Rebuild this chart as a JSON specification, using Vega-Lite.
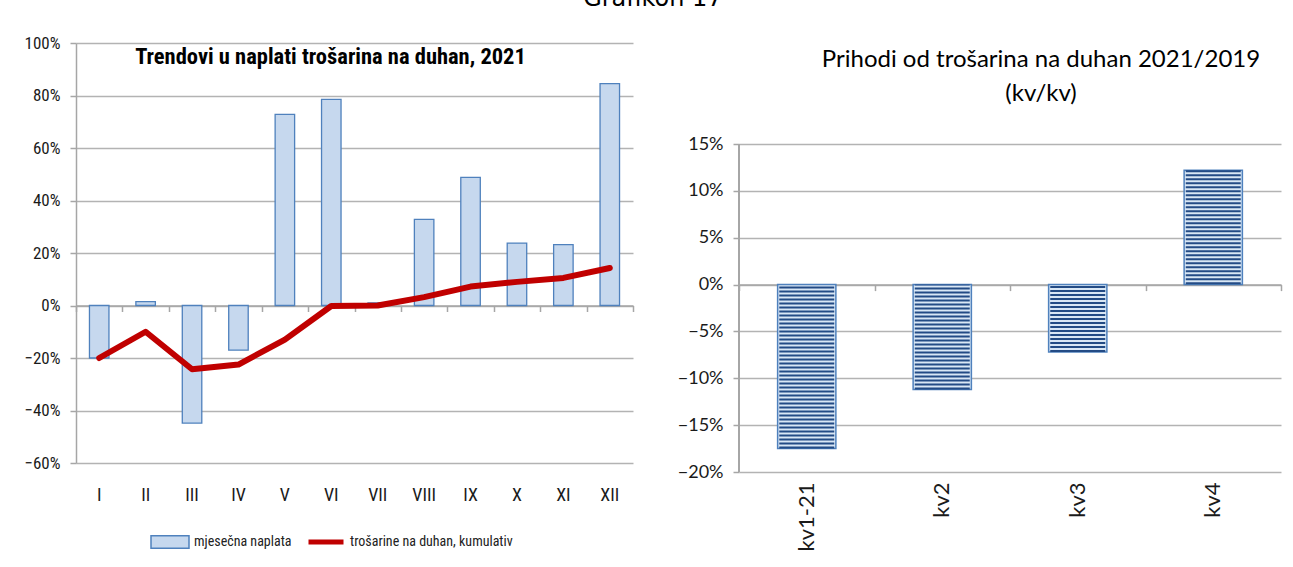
{
  "$schema": "https://vega.github.io/schema/vega-lite/v6.json",
  "background": "white",
  "padding": {"left": 23, "top": -13, "right": 5, "bottom": 0},
  "title": {"text": "Grafikon 17", "font": "DejaVu Sans", "fontSize": 24, "fontWeight": "normal", "anchor": "middle", "offset": 23, "color": "#000000"},
  "spacing": 43,
  "resolve": {"scale": {"fill": "independent", "stroke": "independent"}},
  "hconcat": [
    {
      "width": 557,
      "height": 420,
      "title": {"text": "Trendovi u naplati trošarina na duhan, 2021", "font": "Roboto Condensed, DejaVu Sans Condensed, Roboto", "fontSize": 22.5, "fontWeight": "bold", "anchor": "middle", "offset": -34, "dx": -24, "color": "#000000"},
      "data": {"values": [
        {"m": "I", "v": -0.20, "c": -0.20},
        {"m": "II", "v": 0.015, "c": -0.10},
        {"m": "III", "v": -0.448, "c": -0.243},
        {"m": "IV", "v": -0.17, "c": -0.225},
        {"m": "V", "v": 0.728, "c": -0.13},
        {"m": "VI", "v": 0.785, "c": -0.002},
        {"m": "VII", "v": 0.01, "c": 0.0},
        {"m": "VIII", "v": 0.328, "c": 0.032},
        {"m": "IX", "v": 0.488, "c": 0.072},
        {"m": "X", "v": 0.238, "c": 0.09},
        {"m": "XI", "v": 0.232, "c": 0.105},
        {"m": "XII", "v": 0.845, "c": 0.143}
      ]},
      "layer": [
        {
          "mark": {"type": "bar", "width": {"band": 0.42}, "stroke": "#4f81bd", "strokeWidth": 1.3},
          "encoding": {
            "x": {"field": "m", "type": "nominal", "sort": null, "scale": {"paddingInner": 0, "paddingOuter": 0},
                  "axis": {"title": null, "domain": false, "ticks": false, "grid": false, "labelAngle": 0, "labelPadding": 23, "labelFont": "Roboto Condensed, DejaVu Sans Condensed, Roboto", "labelFontSize": 18}},
            "y": {"field": "v", "type": "quantitative", "scale": {"domain": [-0.6, 1.0], "nice": false},
                  "axis": {"title": null, "format": ".0%", "values": [-0.6, -0.4, -0.2, 0, 0.2, 0.4, 0.6, 0.8, 1.0], "grid": true, "tickSize": 6, "labelPadding": 10, "labelFont": "Roboto Condensed, DejaVu Sans Condensed, Roboto", "labelFontSize": 17}},
            "fill": {"datum": "mjesečna naplata", "type": "nominal", "scale": {"range": ["#c6d8ee"]},
                     "legend": {"title": null, "orient": "none", "legendX": 74, "legendY": 479, "symbolType": "M-1,-0.33H1V0.33H-1Z", "symbolSize": 1444, "symbolStrokeColor": "#4f81bd", "symbolStrokeWidth": 1.5, "labelFont": "Roboto Condensed, DejaVu Sans Condensed, Roboto", "labelFontSize": 14, "labelColor": "#222222", "labelLimit": 300}}
          }
        },
        {
          "mark": {"type": "line", "strokeWidth": 6, "strokeCap": "round", "strokeJoin": "round"},
          "encoding": {
            "x": {"field": "m", "type": "nominal", "sort": null,
                  "axis": {"orient": "bottom", "offset": -157.5, "labels": false, "title": null, "domain": true, "ticks": true, "tickBand": "extent", "tickSize": 6, "grid": false}},
            "y": {"field": "c", "type": "quantitative", "title": null},
            "stroke": {"datum": "trošarine na duhan, kumulativ", "type": "nominal", "scale": {"range": ["#c00000"]},
                       "legend": {"title": null, "orient": "none", "legendX": 230, "legendY": 479, "symbolType": "stroke", "symbolSize": 1225, "symbolStrokeWidth": 5, "labelFont": "Roboto Condensed, DejaVu Sans Condensed, Roboto", "labelFontSize": 14, "labelColor": "#222222", "labelLimit": 300}}
          }
        }
      ],
      "resolve": {"axis": {"x": "independent"}}
    },
    {
      "width": 542,
      "height": 429,
      "title": {"text": ["Prihodi od trošarina na duhan 2021/2019", "(kv/kv)"], "font": "Lato", "fontSize": 24, "fontWeight": "normal", "lineHeight": 34, "color": "#000000", "anchor": "middle", "dx": 31, "offset": -63},
      "data": {"values": [
        {"q": "kv1-21", "v": -0.175},
        {"q": "kv2", "v": -0.112},
        {"q": "kv3", "v": -0.072},
        {"q": "kv4", "v": 0.122}
      ]},
      "layer": [
        {
          "mark": {"type": "bar", "width": {"band": 0.43}, "fill": "#d9e7f5", "stroke": "#4f81bd", "strokeWidth": 1.5},
          "encoding": {
            "x": {"field": "q", "type": "nominal", "sort": null, "scale": {"paddingInner": 0, "paddingOuter": 0},
                  "axis": {"title": null, "domain": false, "ticks": false, "grid": false, "labelAngle": -90, "labelPadding": 10, "labelFont": "Lato", "labelFontSize": 22}},
            "y": {"field": "v", "type": "quantitative", "scale": {"domain": [-0.2, 0.2578], "nice": false},
                  "axis": {"title": null, "format": ".0%", "values": [-0.2, -0.15, -0.1, -0.05, 0, 0.05, 0.1, 0.15], "grid": true, "domain": false, "tickSize": 6, "labelPadding": 10, "labelFont": "Lato", "labelFontSize": 18}}
          }
        },
        {
          "mark": {"type": "rule", "strokeWidth": 55, "strokeDash": [2, 2], "stroke": "#234b85", "strokeCap": "butt"},
          "encoding": {
            "x": {"field": "q", "type": "nominal", "sort": null,
                  "axis": {"orient": "bottom", "offset": -187.4, "labels": false, "title": null, "domain": true, "ticks": true, "tickBand": "extent", "tickSize": 6, "grid": false}},
            "y": {"field": "v", "type": "quantitative", "title": null},
            "y2": {"datum": 0}
          }
        },
        {
          "mark": {"type": "rule", "stroke": "#a6a6a6", "strokeWidth": 1.5},
          "encoding": {
            "x": {"datum": "kv1-21", "type": "nominal", "bandPosition": 0, "axis": null},
            "y": {"datum": 0.15, "type": "quantitative", "title": null},
            "y2": {"datum": -0.2}
          }
        }
      ],
      "resolve": {"axis": {"x": "independent"}}
    }
  ],
  "config": {
    "view": {"stroke": null},
    "font": "Lato",
    "axis": {"domainColor": "#a6a6a6", "tickColor": "#a6a6a6", "gridColor": "#b3b3b3", "domainWidth": 1.5, "tickWidth": 1.5, "gridWidth": 1.5, "labelColor": "#1a1a1a"}
  }
}
